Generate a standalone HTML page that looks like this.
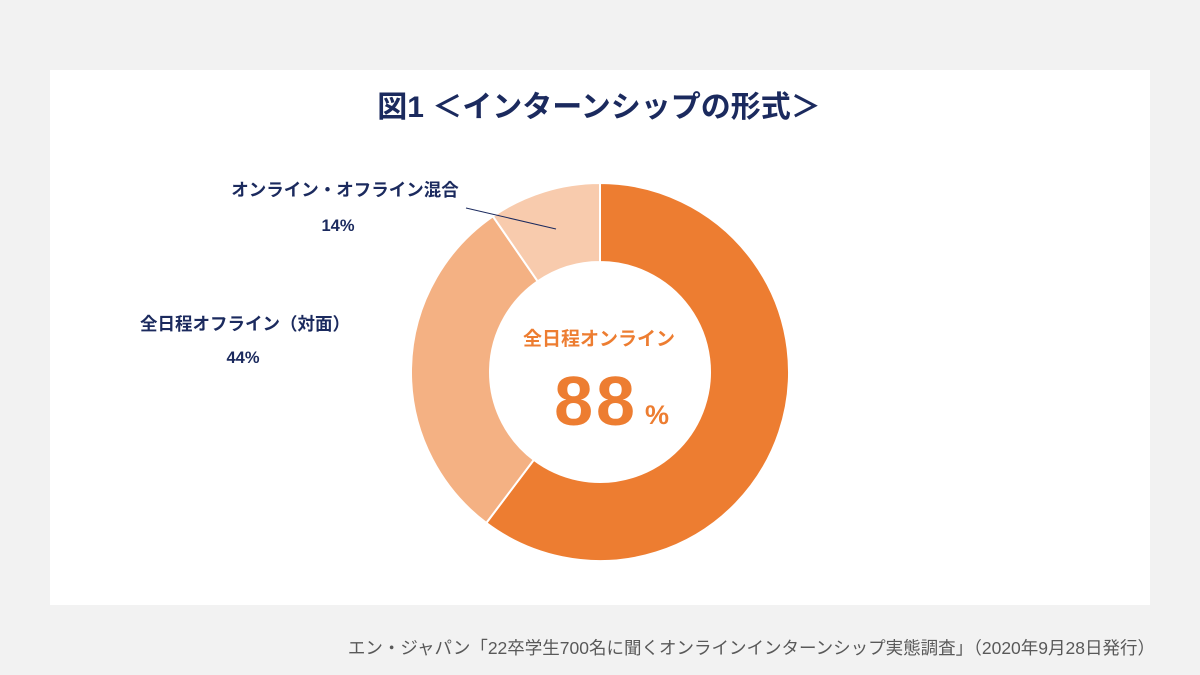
<!DOCTYPE html>
<html><head><meta charset="utf-8"><style>
body{margin:0;width:1200px;height:675px;background:#f2f2f2;font-family:"Liberation Sans","Noto Sans CJK JP",sans-serif;overflow:hidden}
#panel{position:absolute;left:50px;top:70px;width:1100px;height:535px;background:#fff}
</style></head><body>
<div id="panel"></div>
<svg width="1200" height="675" style="position:absolute;left:0;top:0">
<text x="599" y="117" text-anchor="middle" font-size="30" font-weight="bold" fill="#1b2a5e">図1 ＜インターンシップの形式＞</text>
<g id="slices"></g>
<line x1="466" y1="208" x2="556" y2="229" stroke="#1b2a5e" stroke-width="1"/>
<text x="345" y="196" text-anchor="middle" font-size="17.5" font-weight="bold" fill="#1b2a5e">オンライン・オフライン混合</text>
<text x="338" y="231" text-anchor="middle" font-size="16.5" font-weight="bold" fill="#1b2a5e">14%</text>
<text x="245" y="330" text-anchor="middle" font-size="17.5" font-weight="bold" fill="#1b2a5e">全日程オフライン（対面）</text>
<text x="243" y="363" text-anchor="middle" font-size="16.5" font-weight="bold" fill="#1b2a5e">44%</text>
<text x="599" y="345" text-anchor="middle" font-size="19" font-weight="bold" fill="#ed7d31">全日程オンライン</text>
<text x="596" y="425" text-anchor="middle" font-size="70" font-weight="bold" letter-spacing="3" fill="#ed7d31">88</text>
<text x="657" y="424" text-anchor="middle" font-size="27" font-weight="bold" fill="#ed7d31">%</text>
<text x="1155" y="654" text-anchor="end" font-size="17.5" fill="#595959">エン・ジャパン「22卒学生700名に聞くオンラインインターンシップ実態調査」（2020年9月28日発行）</text>
</svg>
<script>
const categories=["全日程オンライン","全日程オフライン（対面）","オンライン・オフライン混合"];
const values=[88,44,14];
const colors=["#ed7d31","#f4b183","#f8cbad"];
const cx=600,cy=372,R=189,r=110;
const total=values.reduce((a,b)=>a+b,0);
const g=document.getElementById('slices');
function pt(a,rad){return [cx+rad*Math.sin(a),cy-rad*Math.cos(a)];}
let a0=0;
values.forEach((v,i)=>{
  const a1=a0+v/total*2*Math.PI;
  const large=(a1-a0)>Math.PI?1:0;
  const [x0,y0]=pt(a0,R),[x1,y1]=pt(a1,R),[x2,y2]=pt(a1,r),[x3,y3]=pt(a0,r);
  const p=document.createElementNS('http://www.w3.org/2000/svg','path');
  p.setAttribute('d',`M${x0},${y0}A${R},${R} 0 ${large} 1 ${x1},${y1}L${x2},${y2}A${r},${r} 0 ${large} 0 ${x3},${y3}Z`);
  p.setAttribute('fill',colors[i]);
  p.setAttribute('stroke','#fff');
  p.setAttribute('stroke-width','2');
  
  
  g.appendChild(p);
  a0=a1;
});
</script>
</body></html>
